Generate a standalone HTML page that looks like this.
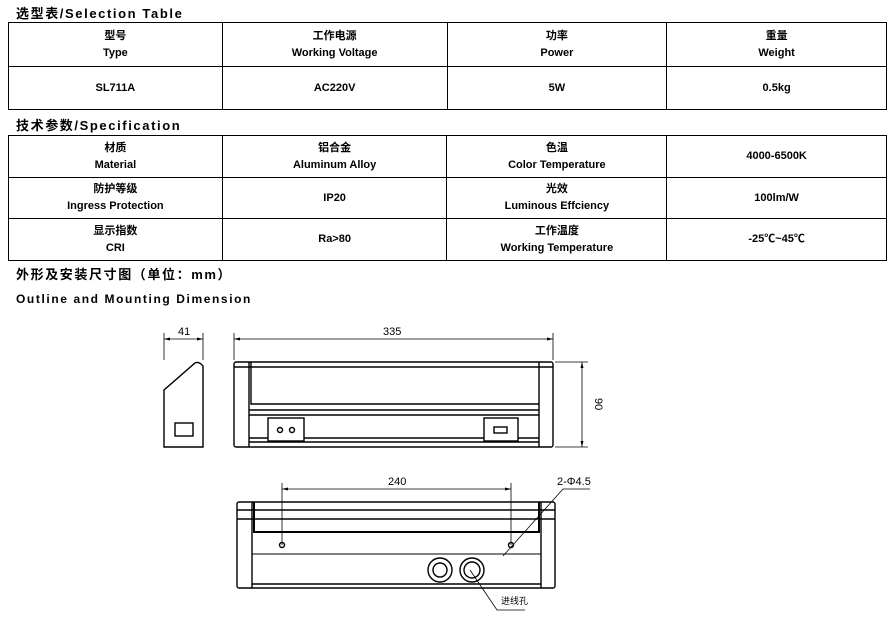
<!DOCTYPE html>
<html><head><meta charset="utf-8"><style>
body{margin:0;width:894px;height:617px;background:#fff;position:relative;overflow:hidden;font-family:"Liberation Sans","Noto Sans CJK SC",sans-serif;color:#000}
.t{position:absolute;font-weight:bold;font-size:13px;letter-spacing:1.6px;white-space:nowrap}
table{position:absolute;left:8px;border-collapse:collapse;font-size:11px;font-weight:bold;text-align:center}
td{border:1px solid #000;padding:0;line-height:17px}
</style></head><body>
<div class="t" style="left:16px;top:3px">选型表/Selection Table</div>
<table style="top:22px;width:879px">
<colgroup><col style="width:214px"><col style="width:225px"><col style="width:220px"><col style="width:220px"></colgroup>
<tr style="height:44px"><td>型号<br>Type</td><td>工作电源<br>Working Voltage</td><td>功率<br>Power</td><td>重量<br>Weight</td></tr>
<tr style="height:43px"><td>SL711A</td><td>AC220V</td><td>5W</td><td>0.5kg</td></tr>
</table>
<div class="t" style="left:16px;top:115px">技术参数/Specification</div>
<table style="top:135px;width:879px">
<colgroup><col style="width:214px"><col style="width:225px"><col style="width:220px"><col style="width:220px"></colgroup>
<tr style="height:42px"><td>材质<br>Material</td><td>铝合金<br>Aluminum Alloy</td><td>色温<br>Color Temperature</td><td>4000-6500K</td></tr>
<tr style="height:41px"><td>防护等级<br>Ingress Protection</td><td>IP20</td><td>光效<br>Luminous Effciency</td><td>100lm/W</td></tr>
<tr style="height:42px"><td>显示指数<br>CRI</td><td>Ra&gt;80</td><td>工作温度<br>Working Temperature</td><td>-25℃~45℃</td></tr>
</table>
<div class="t" style="left:16px;top:264px">外形及安装尺寸图（单位：mm）</div>
<div class="t" style="left:16px;top:292px;font-size:12px">Outline and Mounting Dimension</div>
<svg width="894" height="617" style="position:absolute;left:0;top:0" fill="none" stroke="#000" font-family="Liberation Sans Narrow, Liberation Sans, sans-serif">
<g stroke-width="0.8">
<line x1="164" y1="333" x2="164" y2="360"/><line x1="203" y1="333" x2="203" y2="360"/><line x1="164" y1="339" x2="203" y2="339"/>
<line x1="234" y1="333" x2="234" y2="360"/><line x1="553" y1="333" x2="553" y2="360"/><line x1="234" y1="339" x2="553" y2="339"/>
<line x1="555" y1="362" x2="588" y2="362"/><line x1="555" y1="447" x2="588" y2="447"/><line x1="582" y1="362" x2="582" y2="447"/>
<line x1="282" y1="483" x2="282" y2="545"/><line x1="511" y1="483" x2="511" y2="545"/><line x1="282" y1="489" x2="511" y2="489"/>
<polyline points="590,489 563,489 503,556"/>
<polyline points="470,570 497,610 525,610"/>
</g>
<g fill="#000" stroke="none">
<path d="M164 339 l6 -1.5 v3z M203 339 l-6 -1.5 v3z M234 339 l6 -1.5 v3z M553 339 l-6 -1.5 v3z M582 362 l-1.5 6 h3z M582 447 l-1.5 -6 h3z M282 489 l6 -1.5 v3z M511 489 l-6 -1.5 v3z"/>
</g>
<g fill="#000" stroke="none" font-size="11">
<text x="178" y="335">41</text><text x="383" y="335">335</text>
<text x="595" y="398" transform="rotate(90 595 398)">90</text>
<text x="388" y="485">240</text><text x="557" y="485">2-Φ4.5</text>
<text x="501" y="604" font-size="9" font-family="Noto Sans CJK SC, sans-serif">进线孔</text>
</g>
<g stroke-width="1.4">
<path d="M164 447 V390 L195 363 Q199 361 203 366 V447 Z"/>
<rect x="175" y="423" width="18" height="13"/>
<rect x="234" y="362" width="319" height="85" rx="2"/>
<line x1="249" y1="362" x2="249" y2="447"/><line x1="539" y1="362" x2="539" y2="447"/>
<line x1="234" y1="367" x2="553" y2="367"/>
<polyline points="251,362 251,404 539,404"/>
<line x1="249" y1="410" x2="539" y2="410"/><line x1="249" y1="415" x2="539" y2="415"/>
<line x1="249" y1="438" x2="539" y2="438"/><line x1="249" y1="442" x2="539" y2="442"/>
<rect x="268" y="418" width="36" height="23" fill="#fff"/>
<rect x="484" y="418" width="34" height="23" fill="#fff"/>
<rect x="494" y="427" width="13" height="6"/>
<circle cx="280" cy="430" r="2.5"/><circle cx="292" cy="430" r="2.5"/>
<rect x="237" y="502" width="318" height="86" rx="2"/>
<line x1="252" y1="502" x2="252" y2="588"/><line x1="541" y1="502" x2="541" y2="588"/>
<line x1="237" y1="510" x2="555" y2="510"/><line x1="237" y1="519" x2="555" y2="519"/>
<polyline points="254,502 254,532 539,532 539,502" stroke-width="2"/>
<line x1="252" y1="554" x2="541" y2="554" stroke-width="1"/>
<line x1="252" y1="584" x2="541" y2="584"/>
<circle cx="282" cy="545" r="2.5"/><circle cx="511" cy="545" r="2.5"/>
<circle cx="440" cy="570" r="12"/><circle cx="440" cy="570" r="7"/>
<circle cx="472" cy="570" r="12"/><circle cx="472" cy="570" r="8"/>
</g>
</svg>
</body></html>
